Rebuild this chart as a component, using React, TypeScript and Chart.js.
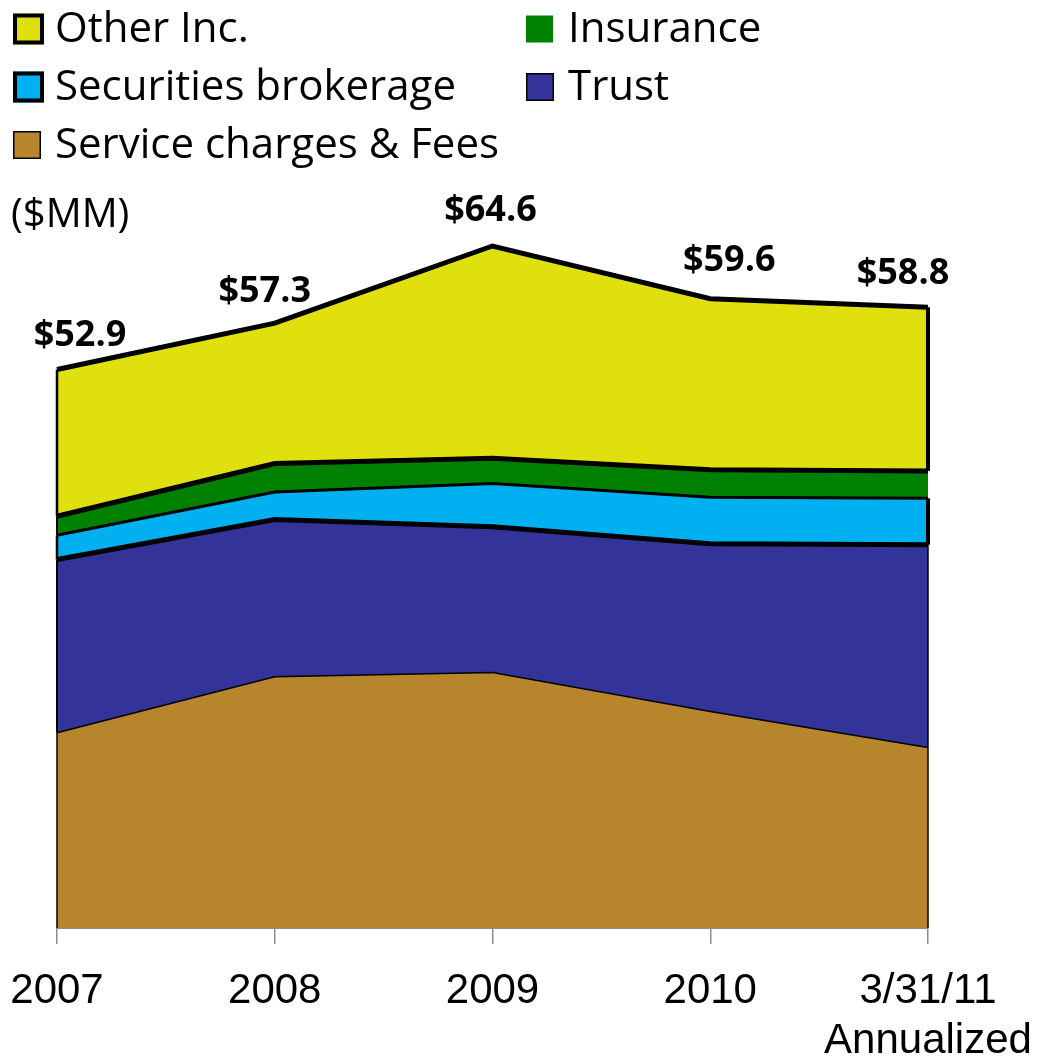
import React, { useEffect, useRef } from 'react';
import { Chart, registerables } from 'chart.js';

Chart.register(...registerables);

// ---- data ----
const categories: string[][] = [['2007'], ['2008'], ['2009'], ['2010'], ['3/31/11', 'Annualized']];
const serviceCharges = [18.5, 23.8, 24.2, 20.5, 17.1];
const trust = [16.4, 14.9, 13.8, 15.9, 19.2];
const securities = [2.3, 2.6, 4.1, 4.4, 4.4];
const insurance = [1.8, 2.7, 2.4, 2.6, 2.6];
const otherInc = [13.9, 13.3, 20.1, 16.2, 15.5];
const totalLabels = ['$52.9', '$57.3', '$64.6', '$59.6', '$58.8'];
const unitLabel = '($MM)';

const seriesNames = ['Service charges & Fees', 'Trust', 'Securities brokerage', 'Insurance', 'Other Inc.'];
const seriesColors = ['#B7862C', '#333399', '#00B0F0', '#008000', '#DFE00D'];

const FONT = '"Open Sans", "Liberation Sans", sans-serif';

const edgesPlugin = {
  id: 'edges',
  afterDatasetsDraw(chart: any, _args: any, opts: any) {
    const ctx = chart.ctx;
    const yBase = chart.scales.y.getPixelForValue(0);
    ctx.save();
    ctx.strokeStyle = '#000';
    ctx.lineCap = 'butt';
    chart.data.datasets.forEach((_ds: any, i: number) => {
      const meta = chart.getDatasetMeta(i);
      const below = i > 0 ? chart.getDatasetMeta(i - 1) : null;
      const n = meta.data.length;
      [0, n - 1].forEach((j, side) => {
        const p = meta.data[j];
        const yb = below ? below.data[j].y : yBase;
        const w = side === 0 ? opts.leftWidths[i] : opts.rightWidths[i];
        if (!w) return;
        ctx.lineWidth = w;
        ctx.beginPath();
        ctx.moveTo(p.x, p.y);
        ctx.lineTo(p.x, yb);
        ctx.stroke();
      });
    });
    ctx.restore();
  },
};

const totalsPlugin = {
  id: 'totals',
  afterDatasetsDraw(chart: any, _args: any, opts: any) {
    const ctx = chart.ctx;
    const meta = chart.getDatasetMeta(chart.data.datasets.length - 1);
    ctx.save();
    ctx.font = opts.font;
    ctx.fillStyle = '#000';
    ctx.textAlign = 'center';
    ctx.textBaseline = 'middle';
    meta.data.forEach((p: any, i: number) => {
      const [dx, dy] = opts.offsets[i];
      ctx.fillText(totalLabels[i], p.x + dx, p.y + dy);
    });
    ctx.restore();
  },
};

const legendPlugin = {
  id: 'customLegend',
  afterDraw(chart: any, _args: any, opts: any) {
    const ctx = chart.ctx;
    ctx.save();
    ctx.font = opts.font;
    ctx.textBaseline = 'middle';
    ctx.textAlign = 'left';
    opts.items.forEach((it: any) => {
      const idx = seriesNames.indexOf(it.name);
      const x = opts.colX[it.col];
      const y = opts.rowY[it.row];
      const s = it.size;
      ctx.fillStyle = seriesColors[idx];
      ctx.fillRect(x, y - s / 2, s, s);
      if (it.border) {
        ctx.lineWidth = it.border;
        ctx.strokeStyle = '#000';
        ctx.strokeRect(x + it.border / 2, y - s / 2 + it.border / 2, s - it.border, s - it.border);
      }
      ctx.fillStyle = '#000';
      ctx.fillText(it.name, x + opts.textGap, y + 1);
    });
    ctx.font = opts.unitFont;
    ctx.fillText(unitLabel, opts.unitX, opts.unitY);
    ctx.restore();
  },
};

export default function App() {
  const ref = useRef<HTMLCanvasElement | null>(null);

  useEffect(() => {
    if (!ref.current) return;
    const borderWidths = [1.5, 5, 3, 5, 5];
    const chart = new Chart(ref.current, {
      type: 'line',
      data: {
        labels: categories as any,
        datasets: seriesNames.map((name, i) => ({
          label: name,
          data: [serviceCharges, trust, securities, insurance, otherInc][i],
          backgroundColor: seriesColors[i],
          borderColor: '#000',
          borderWidth: borderWidths[i],
          fill: i === 0 ? 'origin' : '-1',
          pointRadius: 0,
          tension: 0,
        })),
      },
      options: {
        responsive: false,
        animation: false,
        layout: { padding: { left: 57, right: 124, top: 189, bottom: 0 } },
        scales: {
          x: {
            grid: { display: true, drawOnChartArea: false, drawTicks: true, tickLength: 16, color: '#8c8c8c', lineWidth: 1.5 },
            border: { display: true, color: '#8c8c8c', width: 2 },
            ticks: {
              color: '#000',
              font: { family: '"Liberation Sans", Arial, sans-serif', size: 42 },
              padding: 22,
              maxRotation: 0,
              autoSkip: false,
            },
            afterFit: (s: any) => {
              s.height = 131;
              s.paddingLeft = 0;
              s.paddingRight = 0;
            },
          },
          y: { display: false, stacked: true, min: 0, max: 70 },
        },
        plugins: {
          legend: { display: false },
          tooltip: { enabled: false },
          edges: { leftWidths: [1.5, 2, 2.5, 2, 2.5], rightWidths: [1.5, 1.5, 4, 0, 4] },
          totals: {
            font: 'bold 36px ' + FONT,
            offsets: [[23, -34], [-10, -31], [-2, -35], [19, -38], [-25, -33]],
          },
          customLegend: {
            font: '42px ' + FONT,
            unitFont: '40px ' + FONT,
            colX: [13, 526],
            rowY: [29, 87, 145],
            textGap: 42,
            unitX: 11,
            unitY: 216,
            items: [
              { name: 'Other Inc.', col: 0, row: 0, size: 31, border: 4 },
              { name: 'Insurance', col: 1, row: 0, size: 27, border: 0 },
              { name: 'Securities brokerage', col: 0, row: 1, size: 31, border: 4 },
              { name: 'Trust', col: 1, row: 1, size: 28, border: 1.5 },
              { name: 'Service charges & Fees', col: 0, row: 2, size: 28, border: 1.5 },
            ],
          },
        } as any,
      },
      plugins: [edgesPlugin, totalsPlugin, legendPlugin],
    });
    return () => chart.destroy();
  }, []);

  return (
    <div style={{ position: 'absolute', left: 0, top: 0, width: 1052, height: 1059, background: '#fff' }}>
      <canvas ref={ref} width={1052} height={1059} />
    </div>
  );
}
